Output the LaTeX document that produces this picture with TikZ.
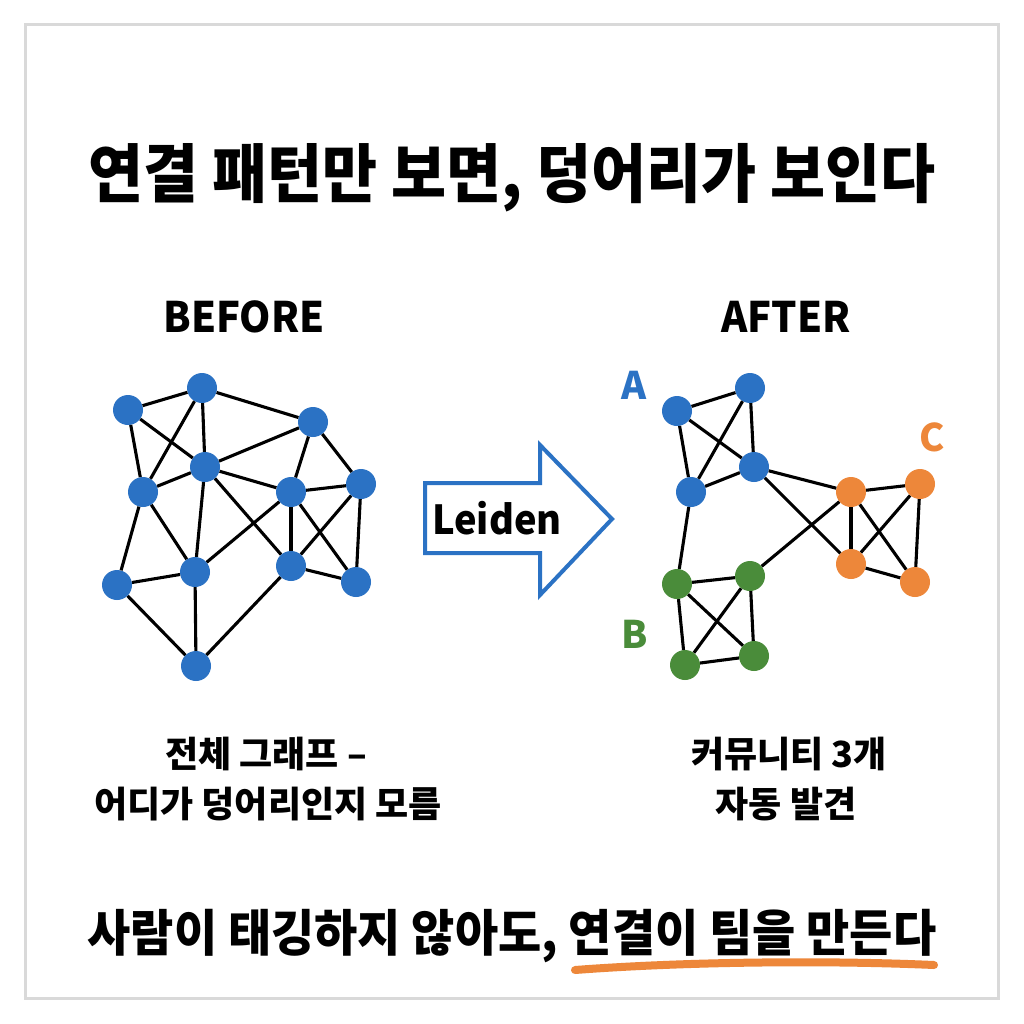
\documentclass[tikz,border=0pt]{standalone}
\usepackage{graphicx}
\usepackage{fontspec}
\setmainfont{Noto Sans CJK KR}
\definecolor{nblue}{RGB}{43,114,196}
\definecolor{ngreen}{RGB}{74,140,58}
\definecolor{norange}{RGB}{237,135,58}
\definecolor{frame}{RGB}{217,217,217}
\tikzset{
  vtx/.style={circle, minimum size=30pt, inner sep=0pt, fill=#1},
  edge/.style={line width=3.1pt, black},
  hd/.style={font=\fontsize{42}{46}\selectfont\bfseries},
  sub/.style={font=\fontsize{36}{40}\selectfont\bfseries, align=center},
  lbl/.style={font=\fontsize{38}{40}\selectfont\bfseries, text=#1},
}
\begin{document}
\begin{tikzpicture}[x=1pt,y=-1pt]
\useasboundingbox (0,0) rectangle (1024,1024);
\fill[white] (0,0) rectangle (1024,1024);
\draw[frame, line width=3pt] (25,25) rectangle (998,998);

% title
\node (title) at (512,178) {\scalebox{0.935}[1]{\fontsize{64}{70}\selectfont\bfseries 연결 패턴만 보면, 덩어리가 보인다}};
\node[hd] (before) at (244,317) {\scalebox{0.95}[1]{BEFORE}};
\node[hd] (after) at (786,317) {\scalebox{0.95}[1]{AFTER}};

% BEFORE graph
\foreach \n/\x/\y in {b1/128/410, b2/202/388, b3/313/422, b4/205/467, b5/143/492, b6/291/492,
  b7/361/484, b8/117/585, b9/195/572, b10/291/566, b11/356/582, b12/196/666}
  \node[vtx=nblue] (\n) at (\x,\y) {};
\foreach \u/\v in {b1/b2, b1/b5, b1/b4, b2/b5, b2/b4, b2/b3, b3/b4, b3/b6, b3/b7, b4/b5, b4/b9,
  b4/b6, b4/b10, b5/b9, b5/b8, b6/b7, b6/b9, b6/b10, b6/b11, b7/b10, b7/b11, b8/b9, b8/b12,
  b9/b12, b10/b11, b10/b12}
  \draw[edge] (\u) -- (\v);

% arrow
\draw[nblue, line width=4pt, fill=white, line join=miter]
  (425,483) -- (540,483) -- (540,445) -- (612,519) -- (540,595) -- (540,553) -- (425,553) -- cycle;
\node[font=\fontsize{40}{44}\selectfont\bfseries] (leiden) at (497,518) {\scalebox{0.95}[1]{Leiden}};

% AFTER graph
\foreach \n/\x/\y in {a1/677/411, a2/750/388, a3/754/467, a4/691/492}
  \node[vtx=nblue] (\n) at (\x,\y) {};
\foreach \n/\x/\y in {c1/851/492, c2/920/484, c3/851/564, c4/915/582}
  \node[vtx=norange] (\n) at (\x,\y) {};
\foreach \n/\x/\y in {g1/677/584, g2/750/576, g3/685/665, g4/754/656}
  \node[vtx=ngreen] (\n) at (\x,\y) {};
\foreach \u/\v in {a1/a2, a1/a4, a1/a3, a2/a4, a2/a3, a4/a3, a3/c1, a3/c3, a4/g1, g2/c1,
  c1/c2, c1/c3, c1/c4, c2/c3, c2/c4, c3/c4, g1/g2, g1/g3, g1/g4, g2/g3, g2/g4, g3/g4}
  \draw[edge] (\u) -- (\v);
\node[lbl=nblue] (la) at (634,385) {A};
\node[lbl=norange] (lc) at (932,437) {C};
\node[lbl=ngreen] (lb) at (635,634) {B};

% captions
\node[sub] (capl1) at (266,754) {전체 그래프 –};
\node[sub] (capl2) at (268,804) {어디가 덩어리인지 모름};
\node[sub] (capr1) at (789,754) {커뮤니티 3개};
\node[sub] (capr2) at (786,804) {자동 발견};

% bottom line
\node (bottom) at (512,936) {\scalebox{0.94}[1]{\fontsize{50}{56}\selectfont\bfseries 사람이 태깅하지 않아도, 연결이 팀을 만든다}};
\coordinate (ul1) at (575,970);
\coordinate (ul2) at (934,965);
\draw[norange, line width=8pt, line cap=round] (ul1) .. controls (680,962) and (820,960) .. (ul2);
\end{tikzpicture}
\end{document}
